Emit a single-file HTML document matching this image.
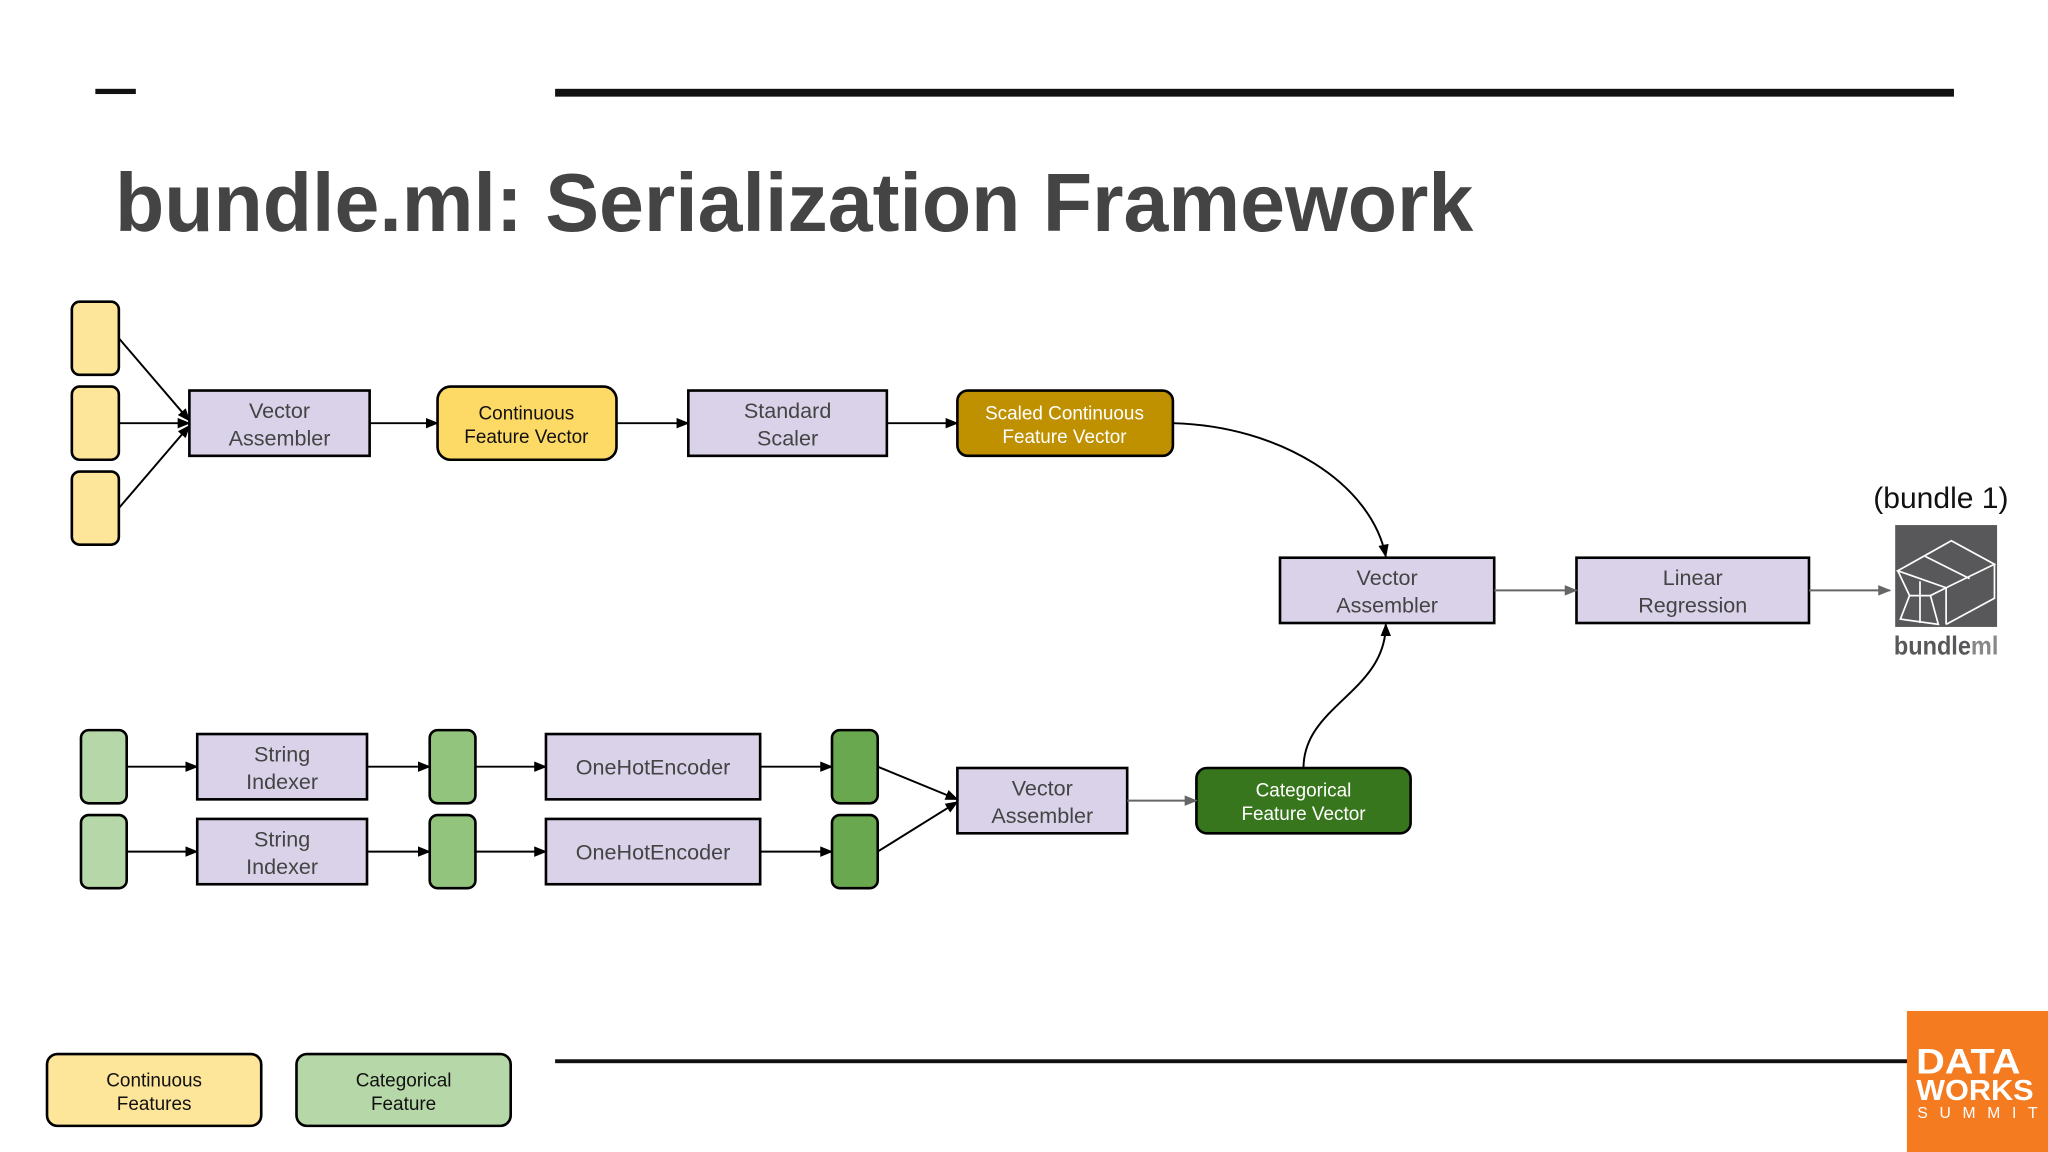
<!DOCTYPE html>
<html><head><meta charset="utf-8"><style>html,body{margin:0;padding:0;background:#fff}svg{display:block}</style></head>
<body>
<svg width="2048" height="1152" viewBox="0 0 1568 882" xmlns="http://www.w3.org/2000/svg" font-family="Liberation Sans, sans-serif">
<defs>
<marker id="ab" markerWidth="10" markerHeight="8" refX="9" refY="4" orient="auto" markerUnits="userSpaceOnUse"><path d="M0,0 L10,4 L0,8 z" fill="#000"/></marker>
<marker id="ag" markerWidth="10" markerHeight="8" refX="9" refY="4" orient="auto" markerUnits="userSpaceOnUse"><path d="M0,0 L10,4 L0,8 z" fill="#666"/></marker>
</defs>
<rect width="1568" height="882" fill="#fff"/>
<rect x="73" y="68" width="31" height="4" fill="#111"/>
<rect x="425" y="68" width="1071" height="6" fill="#111"/>
<text x="88" y="177" font-size="63" font-weight="bold" fill="#444" textLength="1040" lengthAdjust="spacingAndGlyphs">bundle.ml: Serialization Framework</text>

<g stroke="#000" stroke-width="2">
<rect x="55" y="231" width="36" height="56" rx="6" fill="#fde59a"/>
<rect x="55" y="296" width="36" height="56" rx="6" fill="#fde59a"/>
<rect x="55" y="361" width="36" height="56" rx="6" fill="#fde59a"/>
<rect x="145" y="299" width="138" height="50" fill="#d9d2e9"/>
<rect x="335" y="296" width="137" height="56" rx="10" fill="#fdd966"/>
<rect x="527" y="299" width="152" height="50" fill="#d9d2e9"/>
<rect x="733" y="299" width="165" height="50" rx="8" fill="#bf9000"/>
<rect x="980" y="427" width="164" height="50" fill="#d9d2e9"/>
<rect x="1207" y="427" width="178" height="50" fill="#d9d2e9"/>

<rect x="62" y="559" width="35" height="56" rx="6" fill="#b6d7a8"/>
<rect x="62" y="624" width="35" height="56" rx="6" fill="#b6d7a8"/>
<rect x="151" y="562" width="130" height="50" fill="#d9d2e9"/>
<rect x="151" y="627" width="130" height="50" fill="#d9d2e9"/>
<rect x="329" y="559" width="35" height="56" rx="6" fill="#93c47d"/>
<rect x="329" y="624" width="35" height="56" rx="6" fill="#93c47d"/>
<rect x="418" y="562" width="164" height="50" fill="#d9d2e9"/>
<rect x="418" y="627" width="164" height="50" fill="#d9d2e9"/>
<rect x="637" y="559" width="35" height="56" rx="6" fill="#6aa84f"/>
<rect x="637" y="624" width="35" height="56" rx="6" fill="#6aa84f"/>
<rect x="733" y="588" width="130" height="50" fill="#d9d2e9"/>
<rect x="916" y="588" width="164" height="50" rx="8" fill="#38761d"/>

<rect x="36" y="807" width="164" height="55" rx="8" fill="#fde59a"/>
<rect x="227" y="807" width="164" height="55" rx="8" fill="#b6d7a8"/>
</g>

<g stroke="#000" stroke-width="1.5" fill="none" marker-end="url(#ab)">
<line x1="91" y1="259" x2="145" y2="322"/>
<line x1="91" y1="324" x2="145" y2="324"/>
<line x1="91" y1="389" x2="145" y2="326"/>
<line x1="283" y1="324" x2="335" y2="324"/>
<line x1="472" y1="324" x2="527" y2="324"/>
<line x1="679" y1="324" x2="733" y2="324"/>
<path d="M898,324 C980,326 1050,370 1061,426"/>
<path d="M998,588 C998,540 1061,530 1061,478"/>
<line x1="97" y1="587" x2="151" y2="587"/>
<line x1="97" y1="652" x2="151" y2="652"/>
<line x1="281" y1="587" x2="329" y2="587"/>
<line x1="281" y1="652" x2="329" y2="652"/>
<line x1="364" y1="587" x2="418" y2="587"/>
<line x1="364" y1="652" x2="418" y2="652"/>
<line x1="582" y1="587" x2="637" y2="587"/>
<line x1="582" y1="652" x2="637" y2="652"/>
<line x1="672" y1="587" x2="733" y2="612"/>
<line x1="672" y1="652" x2="733" y2="614"/>
</g>
<g stroke="#666" stroke-width="1.5" fill="none" marker-end="url(#ag)">
<line x1="1144" y1="452" x2="1207" y2="452"/>
<line x1="1385" y1="452" x2="1447" y2="452"/>
<line x1="863" y1="613" x2="916" y2="613"/>
</g>

<g font-size="16.5" fill="#444" text-anchor="middle">
<text x="214" y="320">Vector</text><text x="214" y="341">Assembler</text>
<text x="603" y="320">Standard</text><text x="603" y="341">Scaler</text>
<text x="1062" y="448">Vector</text><text x="1062" y="469">Assembler</text>
<text x="1296" y="448">Linear</text><text x="1296" y="469">Regression</text>
<text x="216" y="583">String</text><text x="216" y="604">Indexer</text>
<text x="216" y="648">String</text><text x="216" y="669">Indexer</text>
<text x="500" y="593">OneHotEncoder</text>
<text x="500" y="658">OneHotEncoder</text>
<text x="798" y="609">Vector</text><text x="798" y="630">Assembler</text>
</g>
<g font-size="14.5" text-anchor="middle">
<text x="403" y="321" fill="#111">Continuous</text><text x="403" y="339" fill="#111">Feature Vector</text>
<text x="815" y="321" fill="#fff">Scaled Continuous</text><text x="815" y="339" fill="#fff">Feature Vector</text>
<text x="998" y="610" fill="#fff">Categorical</text><text x="998" y="628" fill="#fff">Feature Vector</text>
<text x="118" y="832" fill="#111">Continuous</text><text x="118" y="850" fill="#111">Features</text>
<text x="309" y="832" fill="#111">Categorical</text><text x="309" y="850" fill="#111">Feature</text>
</g>

<text x="1486" y="389" font-size="23" fill="#111" text-anchor="middle">(bundle 1)</text>
<rect x="1451" y="402" width="78" height="78" fill="#58585a"/>
<g stroke="#fff" stroke-width="1.3" fill="none">
<path d="M1453,437 L1494,414 L1527,432 L1490,450 Z"/>
<path d="M1474,426 L1508,443"/>
<path d="M1490,450 L1490,478 M1490,478 L1527,458 L1527,432"/>
<path d="M1453,437 L1462,456 L1455,474 L1484,478 L1478,456 L1490,450"/>
<path d="M1462,456 L1478,456 M1470,445 L1470,477"/>
</g>
<text x="1490" y="501" font-size="20" font-weight="bold" fill="#58585a" text-anchor="middle" textLength="80" lengthAdjust="spacingAndGlyphs">bundle<tspan fill="#888">ml</tspan></text>

<rect x="425" y="811" width="1036" height="3" fill="#111"/>
<rect x="1460" y="774" width="108" height="108" fill="#f47b20"/>
<text x="1467" y="822" font-size="27" font-weight="bold" fill="#fff" textLength="80" lengthAdjust="spacingAndGlyphs">DATA</text>
<text x="1467" y="842" font-size="22" font-weight="bold" fill="#fff" textLength="90" lengthAdjust="spacingAndGlyphs">WORKS</text>
<text x="1468" y="856" font-size="12" fill="#fff" textLength="92" lengthAdjust="spacing">SUMMIT</text>
</svg>
</body></html>
